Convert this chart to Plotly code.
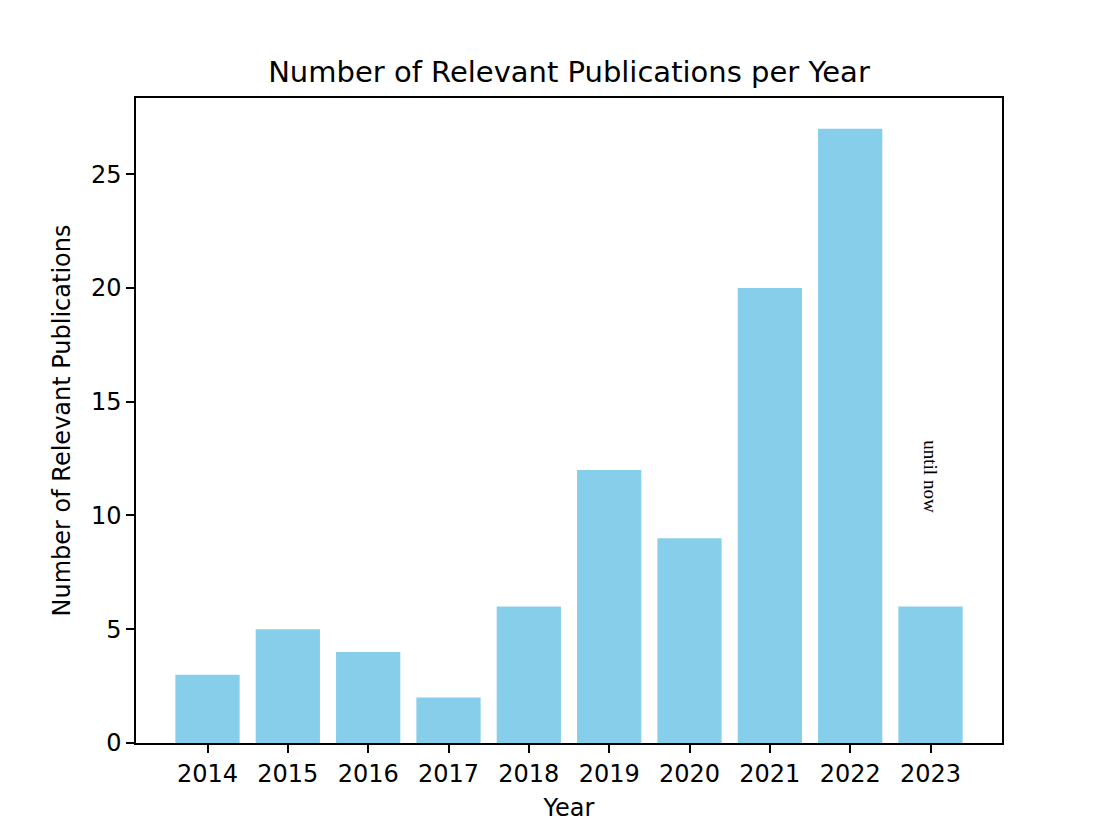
import plotly.graph_objects as go

years = [2014, 2015, 2016, 2017, 2018, 2019, 2020, 2021, 2022, 2023]
counts = [3, 5, 4, 2, 6, 12, 9, 20, 27, 6]
year_labels = [str(y) for y in years]
note_text = "until now"

fig = go.Figure()
fig.add_trace(go.Bar(x=years, y=counts, width=0.8, marker_color="#87CEEB",
                     marker_line_width=0))

# vertical note over the last bar
fig.add_annotation(x=years[-1], y=counts[-1] + 5.7, text=note_text, textangle=90,
                   showarrow=False, font=dict(family="Liberation Serif", size=19, color="black"))

axis_common = dict(showline=True, linecolor="black", linewidth=1.5, mirror=True,
                   ticks="outside", ticklen=8, tickwidth=1.5, tickcolor="black",
                   showgrid=False, zeroline=False, automargin=False,
                   tickfont=dict(family="DejaVu Sans", size=24, color="black"),
                   title_font=dict(family="DejaVu Sans", size=24, color="black"))

fig.update_xaxes(range=[2013.11, 2023.89], tickvals=years, ticktext=year_labels,
                 title_text="Year", title_standoff=13, **axis_common)
fig.update_yaxes(range=[0, 28.35], tickvals=[0, 5, 10, 15, 20, 25],
                 title_text="Number of Relevant Publications", title_standoff=14, **axis_common)

# page body adds ~8px margin, so the figure is a bit smaller than the window
fig.update_layout(
    width=1087, height=814,
    margin=dict(l=128, r=93, t=90, b=79),
    plot_bgcolor="white", paper_bgcolor="white",
    showlegend=False,
    title=dict(text="Number of Relevant Publications per Year", x=0.5, xref="paper",
               y=1 - 64 / 814, yanchor="middle",
               font=dict(family="DejaVu Sans", size=29, color="black")),
)

fig.write_html("out.html")
